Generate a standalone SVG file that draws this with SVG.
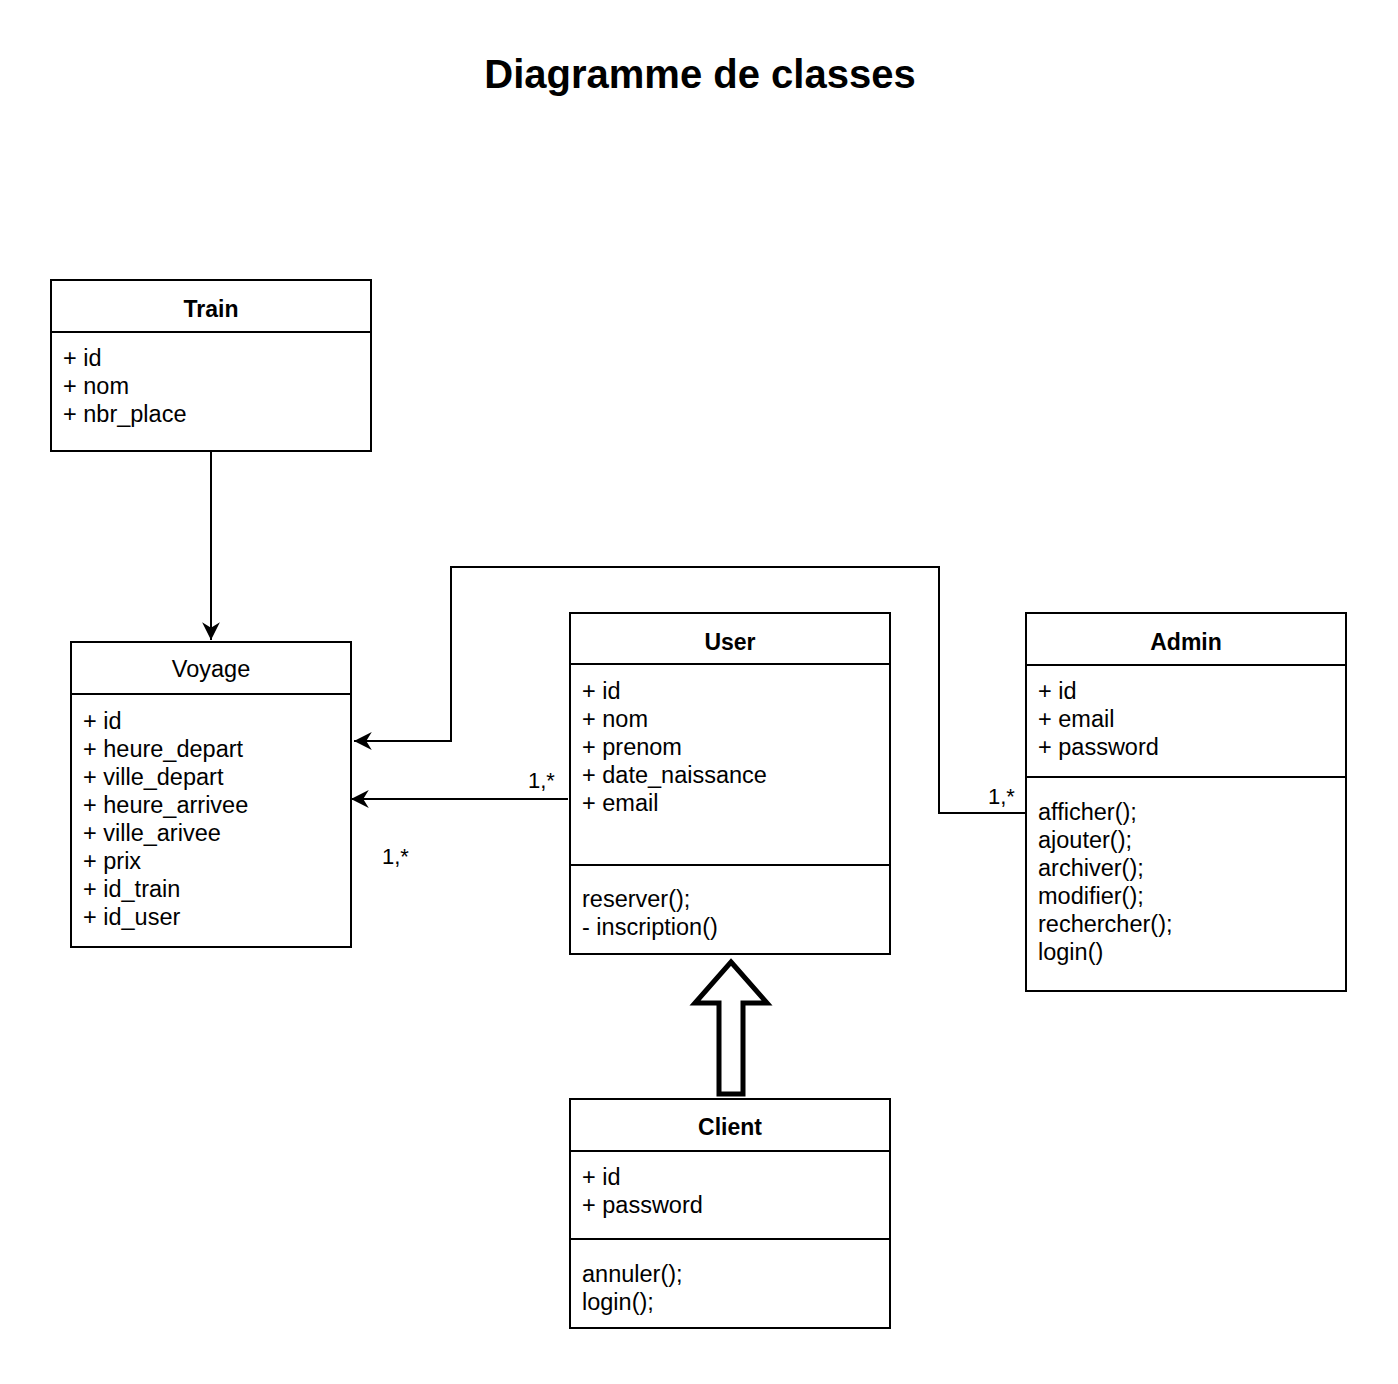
<svg xmlns="http://www.w3.org/2000/svg" width="1398" height="1384" viewBox="0 0 1398 1384">
<style>
  .box { fill: #ffffff; stroke: #000000; stroke-width: 2; }
  .sep { stroke: #000000; stroke-width: 2; fill: none; }
  .t { font-family: "Liberation Sans", Arial, sans-serif; font-size: 23.5px; fill: #000000; }
  .title { font-family: "Liberation Sans", Arial, sans-serif; font-size: 23px; font-weight: bold; fill: #000000; text-anchor: middle; }
  .edge { stroke: #000000; stroke-width: 2; fill: none; }
  .lbl { font-family: "Liberation Sans", Arial, sans-serif; font-size: 22px; fill: #000000; }
</style>
<defs>
  <marker id="arrow" markerUnits="userSpaceOnUse" markerWidth="20" markerHeight="20" viewBox="-17 -9 18 18" refX="0" refY="0" orient="auto">
    <path d="M 0 0 L -16 -8 L -11 0 L -16 8 Z" fill="#000000"/>
  </marker>
</defs>
<rect width="1398" height="1384" fill="#ffffff"/>
<text x="700" y="88" font-family="Liberation Sans, Arial, sans-serif" font-size="40" font-weight="bold" text-anchor="middle">Diagramme de classes</text>

<g id="connectors">
  <path class="edge" d="M 211 452 L 211 640" marker-end="url(#arrow)"/>
  <path class="edge" d="M 1026 813 L 939 813 L 939 567 L 451 567 L 451 741 L 354 741" marker-end="url(#arrow)"/>
  <path class="edge" d="M 568 799 L 351 799" marker-end="url(#arrow)"/>
  <polygon points="731,962 767,1003 743,1003 743,1094 719,1094 719,1003 695,1003" fill="#ffffff" stroke="#000000" stroke-width="5" stroke-linejoin="miter"/>
  <text class="lbl" x="528" y="788">1,*</text>
  <text class="lbl" x="988" y="804">1,*</text>
  <text class="lbl" x="382" y="864">1,*</text>
</g>

<g id="train">
  <rect class="box" x="51" y="280" width="320" height="171"/>
  <line class="sep" x1="51" y1="332" x2="371" y2="332"/>
  <text class="title" x="211" y="317">Train</text>
  <text class="t" x="63" y="366">+ id</text>
  <text class="t" x="63" y="394">+ nom</text>
  <text class="t" x="63" y="422">+ nbr_place</text>
</g>

<g id="voyage">
  <rect class="box" x="71" y="642" width="280" height="305"/>
  <line class="sep" x1="71" y1="694" x2="351" y2="694"/>
  <text class="t" x="211" y="677" text-anchor="middle">Voyage</text>
  <text class="t" x="83" y="729">+ id</text>
  <text class="t" x="83" y="757">+ heure_depart</text>
  <text class="t" x="83" y="785">+ ville_depart</text>
  <text class="t" x="83" y="813">+ heure_arrivee</text>
  <text class="t" x="83" y="841">+ ville_arivee</text>
  <text class="t" x="83" y="869">+ prix</text>
  <text class="t" x="83" y="897">+ id_train</text>
  <text class="t" x="83" y="925">+ id_user</text>
</g>

<g id="user">
  <rect class="box" x="570" y="613" width="320" height="341"/>
  <line class="sep" x1="570" y1="664" x2="890" y2="664"/>
  <line class="sep" x1="570" y1="865" x2="890" y2="865"/>
  <text class="title" x="730" y="650">User</text>
  <text class="t" x="582" y="699">+ id</text>
  <text class="t" x="582" y="727">+ nom</text>
  <text class="t" x="582" y="755">+ prenom</text>
  <text class="t" x="582" y="783">+ date_naissance</text>
  <text class="t" x="582" y="811">+ email</text>
  <text class="t" x="582" y="907">reserver();</text>
  <text class="t" x="582" y="935">- inscription()</text>
</g>

<g id="admin">
  <rect class="box" x="1026" y="613" width="320" height="378"/>
  <line class="sep" x1="1026" y1="665" x2="1346" y2="665"/>
  <line class="sep" x1="1026" y1="777" x2="1346" y2="777"/>
  <text class="title" x="1186" y="650">Admin</text>
  <text class="t" x="1038" y="699">+ id</text>
  <text class="t" x="1038" y="727">+ email</text>
  <text class="t" x="1038" y="755">+ password</text>
  <text class="t" x="1038" y="820">afficher();</text>
  <text class="t" x="1038" y="848">ajouter();</text>
  <text class="t" x="1038" y="876">archiver();</text>
  <text class="t" x="1038" y="904">modifier();</text>
  <text class="t" x="1038" y="932">rechercher();</text>
  <text class="t" x="1038" y="960">login()</text>
</g>

<g id="client">
  <rect class="box" x="570" y="1099" width="320" height="229"/>
  <line class="sep" x1="570" y1="1151" x2="890" y2="1151"/>
  <line class="sep" x1="570" y1="1239" x2="890" y2="1239"/>
  <text class="title" x="730" y="1135">Client</text>
  <text class="t" x="582" y="1185">+ id</text>
  <text class="t" x="582" y="1213">+ password</text>
  <text class="t" x="582" y="1282">annuler();</text>
  <text class="t" x="582" y="1310">login();</text>
</g>
</svg>
